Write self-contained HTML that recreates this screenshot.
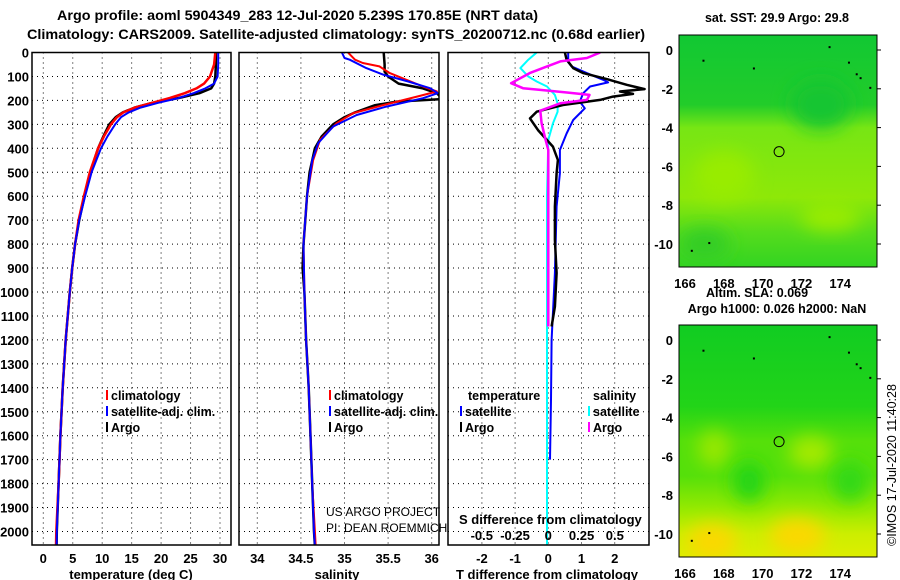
<!DOCTYPE html>
<html><head><meta charset="utf-8">
<style>
html,body{margin:0;padding:0;background:#fff;}
svg{display:block;font-family:"Liberation Sans",Arial,sans-serif;}
.b{font-weight:bold;}
</style></head>
<body>
<svg id="fig" width="900" height="580" viewBox="0 0 900 580" xmlns="http://www.w3.org/2000/svg">
<defs>
<filter id="blur" x="-50%" y="-50%" width="200%" height="200%"><feGaussianBlur stdDeviation="9"/></filter>
<linearGradient id="g1" x1="0" y1="0" x2="0" y2="1">
<stop offset="0" stop-color="#11c833"/><stop offset="0.3" stop-color="#22cc2a"/><stop offset="0.4" stop-color="#77e614"/><stop offset="0.7" stop-color="#8ee808"/><stop offset="0.85" stop-color="#55dc1c"/><stop offset="1" stop-color="#33d422"/>
</linearGradient>
<linearGradient id="g2" x1="0" y1="0" x2="0" y2="1">
<stop offset="0" stop-color="#11cc22"/><stop offset="0.35" stop-color="#22d418"/><stop offset="0.5" stop-color="#55e00a"/><stop offset="0.65" stop-color="#55e00a"/><stop offset="0.8" stop-color="#99ea00"/><stop offset="0.9" stop-color="#ccee00"/><stop offset="1" stop-color="#ddee00"/>
</linearGradient>
<clipPath id="c1"><rect x="679" y="35" width="198" height="232"/></clipPath>
<clipPath id="c2"><rect x="679" y="325" width="198" height="232"/></clipPath>
</defs>
<text x="57" y="20" textLength="481" lengthAdjust="spacingAndGlyphs" font-size="14" class="b">Argo profile: aoml 5904349_283 12-Jul-2020 5.239S 170.85E (NRT data)</text>
<text x="27" y="39" textLength="618" lengthAdjust="spacingAndGlyphs" font-size="14" class="b">Climatology: CARS2009. Satellite-adjusted climatology: synTS_20200712.nc (0.68d earlier)</text>
<g id="panels"></g>
<g id="maps"></g>
</svg>
<script>
// ---- profile data (depth in m) ----
const tDepthArgo = [0,50,100,130,150,170,190,210,230,250,270,300,350,400,500,600,700,800,900,1000,1200,1400,1600,1800,2000,2060];
const tArgo      = [29.3,29.3,29.2,29.0,28.5,26.5,23,18.5,15.5,13.5,12.3,11.2,10.2,9.3,8.0,7.0,6.1,5.4,4.9,4.5,3.8,3.3,2.9,2.6,2.3,2.25];
const tClim      = [29.2,29.0,28.3,27.3,26.0,24.0,21.5,18.5,15.5,13.6,12.5,11.5,10.3,9.3,7.9,6.9,6.0,5.4,4.9,4.5,3.8,3.3,2.9,2.6,2.2,2.15];
const tSat       = [29.7,29.7,29.6,29.0,27.5,25.5,23,19.5,16.5,14.5,13.2,12.2,10.9,9.8,8.2,7.1,6.1,5.4,4.9,4.5,3.8,3.3,2.9,2.6,2.3,2.25];

const sDepthArgo = [0,50,80,100,130,150,170,185,195,205,220,250,270,300,350,400,500,600,700,800,900,1000,1200,1400,1600,1800,2000,2060];
const sArgo      = [35.45,35.46,35.46,35.5,35.62,35.9,36.06,36.1,36.1,35.6,35.35,35.12,35.0,34.87,34.74,34.66,34.60,34.57,34.55,34.53,34.52,34.54,34.56,34.59,34.61,34.63,34.65,34.66];
const sDepthClim = [0,30,44,58,86,114,142,163,184,219,253,295,364,450,600,800,1000,1200,1400,1600,1800,2000,2060];
const sClim      = [35.04,35.12,35.21,35.4,35.52,35.71,35.9,36.06,35.83,35.45,35.1,34.91,34.72,34.64,34.57,34.53,34.54,34.56,34.59,34.61,34.63,34.66,34.67];
const sDepthSat  = [0,23,30,65,93,121,149,170,191,226,261,309,378,450,600,800,1000,1200,1400,1600,1800,2000,2060];
const sSat       = [34.97,35.0,35.06,35.25,35.45,35.73,35.98,36.07,35.9,35.48,35.14,34.87,34.7,34.63,34.57,34.53,34.54,34.56,34.59,34.61,34.63,34.65,34.66];

const dtDepthArgo = [0,30,65,86,111,135,153,163,173,184,198,219,247,275,324,393,449,504,643,782,921,1061,1144];
const dtArgo      = [0.5,0.55,0.75,1.05,1.76,2.36,2.9,2.16,2.55,1.95,1.56,0.44,-0.35,-0.55,-0.31,0.14,0.29,0.25,0.2,0.2,0.25,0.2,0.1];
const dtDepthSat  = [0,40,58,86,114,125,142,170,205,233,282,338,407,504,643,921,1200,1450,1700];
const dtSat       = [0.6,0.6,0.7,1.16,1.65,1.8,1.26,1.05,0.95,1.1,0.75,0.55,0.35,0.35,0.25,0.2,0.1,0.08,0.05];
const dsDepthSat  = [0,30,65,100,121,142,177,212,247,295,365,600,1000,1500,2060];
const dsSat       = [-0.087,-0.15,-0.21,-0.15,-0.087,-0.01,0.05,0.07,0.07,0.035,0,-0.01,-0.01,-0.01,-0.01];
const dsDepthArgo = [0,23,37,58,86,128,149,156,167,177,198,212,243,295,365,407,600,900,1144];
const dsArgo      = [0.39,0.29,0.09,-0.01,-0.14,-0.28,-0.19,-0.06,0.14,0.31,0.29,0.09,-0.06,-0.05,-0.02,0,0,0,0];

const depthTicks = [0,100,200,300,400,500,600,700,800,900,1000,1100,1200,1300,1400,1500,1600,1700,1800,1900,2000];
const tTicks = [0,5,10,15,20,25,30];
const sTicks = [34,34.5,35,35.5,36];
const dtTicks = [-2,-1,0,1,2];
const dsTicks = [-0.5,-0.25,0,0.25,0.5];
const latTicks = [0,-2,-4,-6,-8,-10];
const lonTicks = [166,168,170,172,174];
const argoLon = 170.85, argoLat = -5.239;

const NS="http://www.w3.org/2000/svg";
function el(tag,attrs,parent,txt){const e=document.createElementNS(NS,tag);for(const k in attrs)e.setAttribute(k,attrs[k]);if(txt!==undefined)e.textContent=txt;parent.appendChild(e);return e;}
const yD = d => 52.5 + 0.2395*d;
const xT = t => 43.3 + 5.89*t;
const xS = s => 257.3 + 87.2*(s-34);
const xDT = t => 548.3 + 33.2*t;
const xDS = s => 548.3 + 133*s;
const P = document.getElementById('panels');
const panels=[{x0:32,x1:231,name:'temperature'},{x0:239,x1:439,name:'salinity'},{x0:448,x1:649,name:'difference'}];
panels.forEach((p,i)=>{
  const g=el('g',{},P);
  
  
  depthTicks.forEach(d=>{
    const l=el('line',{x1:p.x0,x2:p.x1,y1:yD(d),y2:yD(d),stroke:'#000','stroke-width':1,'stroke-dasharray':'1 4'},g);
    
    
  });
  const xs = i==0?tTicks.map(xT):i==1?sTicks.map(xS):dtTicks.map(xDT);
  xs.forEach(x=>{
    const l=el('line',{x1:x,x2:x,y1:52.5,y2:545,stroke:'#000','stroke-width':1,'stroke-dasharray':'1 4'},g);
    
    
  });
});
function line(g,xs,ds,fx,color,w,name){
  const pts=xs.map((v,i)=>fx(v).toFixed(1)+','+yD(ds[i]).toFixed(1)).join(' ');
  const l=el('polyline',{points:pts,fill:'none',stroke:color,'stroke-width':w,'stroke-linejoin':'round'},g);
  
  
}
const cl1=el('clipPath',{id:'cp1'},P);el('rect',{x:32,y:52.5,width:199,height:492.5},cl1);
const cl2=el('clipPath',{id:'cp2'},P);el('rect',{x:239,y:52.5,width:200,height:492.5},cl2);
const cl3=el('clipPath',{id:'cp3'},P);el('rect',{x:448,y:52.5,width:201,height:492.5},cl3);
const g1=el('g',{'clip-path':'url(#cp1)'},P);
line(g1,tArgo,tDepthArgo,xT,'#000',2.5,'temperature-argo-line');
line(g1,tClim,tDepthArgo,xT,'#f00',2.5,'temperature-climatology-line');
line(g1,tSat,tDepthArgo,xT,'#00f',2,'temperature-satellite-line');
const g2=el('g',{'clip-path':'url(#cp2)'},P);
line(g2,sArgo,sDepthArgo,xS,'#000',2.5,'salinity-argo-line');
line(g2,sClim,sDepthClim,xS,'#f00',2,'salinity-climatology-line');
line(g2,sSat,sDepthSat,xS,'#00f',2,'salinity-satellite-line');
const g3=el('g',{'clip-path':'url(#cp3)'},P);
line(g3,dsSat,dsDepthSat,xDS,'#0ff',2,'salinity-diff-satellite-line');
line(g3,dtSat,dtDepthSat,xDT,'#00f',2,'temperature-diff-satellite-line');
line(g3,dtArgo,dtDepthArgo,xDT,'#000',2.5,'temperature-diff-argo-line');
line(g3,dsArgo,dsDepthArgo,xDS,'#f0f',2.5,'salinity-diff-argo-line');
panels.forEach(p=>{
  const r=el('rect',{x:p.x0,y:52.5,width:p.x1-p.x0,height:492.5,fill:'none',stroke:'#000','stroke-width':1.5},P);
  
  
});
depthTicks.forEach(d=>{
  const t=el('text',{x:29,y:yD(d)+5,'text-anchor':'end','font-size':13,class:'b'},P,String(d));
  
  
});
function xlabels(ticks,fx,y,fs){ticks.forEach(v=>{
  const t=el('text',{x:fx(v),y:y,'text-anchor':'middle','font-size':fs,class:'b'},P,String(v));
  
  
});}
xlabels(tTicks,xT,563,13);xlabels(sTicks,xS,563,13);xlabels(dtTicks,xDT,563,13);
xlabels(dsTicks,xDS,540,13);
function txt(x,y,s,fs,name,bold,anchor){
  const t=el('text',{x:x,y:y,'font-size':fs,'text-anchor':anchor||'start'},P,s);
  if(bold)t.setAttribute('font-weight','bold');
  
  
  return t;
}
txt(131,579,'temperature (deg C)',13,'temperature-axis-title',1,'middle');
txt(337,579,'salinity',13,'salinity-axis-title',1,'middle');
txt(547,579,'T difference from climatology',13,'t-diff-axis-title',1,'middle');
txt(459,524,'S difference from climatology',13,'s-diff-axis-title',1);
txt(326,516,'US ARGO PROJECT',12,'credit-project',0);
txt(326,532,'PI: DEAN ROEMMICH',12,'credit-pi',0);
function leg(x,y,color,label){
  const m=el('rect',{x:x,y:y-10,width:2,height:10,fill:color},P);
  
  
  txt(x+5,y,label,12.5,'legend-entry',1);
}
leg(106,400,'#f00','climatology');leg(106,416,'#00f','satellite-adj. clim.');leg(106,432,'#000','Argo');
leg(329,400,'#f00','climatology');leg(329,416,'#00f','satellite-adj. clim.');leg(329,432,'#000','Argo');
txt(468,400,'temperature',12.5,'legend-heading-temperature',1);
txt(593,400,'salinity',12.5,'legend-heading-salinity',1);
leg(460,416,'#00f','satellite');leg(460,432,'#000','Argo');
leg(588,416,'#0ff','satellite');leg(588,432,'#f0f','Argo');

// ---- maps ----
const M=document.getElementById('maps');
const mx = lon => 685 + 19.4*(lon-166);
function map(oy,grad,blobs,clip,name){
  const g=el('g',{'clip-path':'url(#'+clip+')'},M);
  
  
  const my = lat => oy + 50 - 19.4*lat;
  el('rect',{x:679,y:oy+35,width:198,height:232,fill:'url(#'+grad+')'},g);
  blobs.forEach(b=>el('ellipse',{cx:mx(b[0]),cy:my(b[1]),rx:b[2],ry:b[3],fill:b[4],filter:'url(#blur)'},g));
  const fr=el('rect',{x:679,y:oy+35,width:198,height:232,fill:'none',stroke:'#000','stroke-width':1},M);
  
  
  latTicks.forEach(l=>{
    const t=el('text',{x:673,y:my(l)+5,'text-anchor':'end','font-size':13,class:'b'},M,String(l));
    
    
    el('line',{x1:877,x2:881,y1:my(l),y2:my(l),stroke:'#000'},M);
  });
  lonTicks.forEach(l=>{
    const t=el('text',{x:mx(l),y:oy+288,'text-anchor':'middle','font-size':13,class:'b'},M,String(l));
    
    
  });
  const c=el('circle',{cx:mx(argoLon),cy:my(argoLat),r:5,fill:'none',stroke:'#000','stroke-width':1},M);
  
  
  [[174.4,-0.6],[174.8,-1.2],[175,-1.4],[173.4,0.2],[166.9,-0.5],[169.5,-0.9],[175.5,-1.9],[166.3,-10.3],[167.2,-9.9]].forEach(p=>el('rect',{x:mx(p[0]),y:my(p[1]),width:2,height:2,fill:'#000'},M));
}
map(0,'g1',[[173,-2.8,30,25,'#18c530'],[168,-6.5,30,25,'#98ec04'],[173.5,-8.6,30,14,'#9aec06'],[167,-10,25,15,'#30cc28']],'c1','sst-map');
map(290,'g2',[[167.4,-10.4,25,18,'#fbd800'],[171.8,-10.1,28,18,'#fbd800'],[167.5,-5.6,16,18,'#99e800'],[172.5,-5.8,22,16,'#a6ea00'],[169.3,-7.3,16,20,'#22d418'],[174.5,-7.3,18,20,'#33d814']],'c2','sla-map');
txt(777,22,'sat. SST: 29.9 Argo: 29.8',12.5,'sst-map-title',1,'middle');
txt(757,297,'Altim. SLA: 0.069',12.5,'sla-title',1,'middle');
txt(777,313,'Argo h1000: 0.026 h2000: NaN',12.5,'sla-map-title',1,'middle');
const cr=txt(0,0,'©IMOS 17-Jul-2020 11:40:28',12.5,'timestamp-credit',0,'middle');
cr.setAttribute('transform','translate(896,465) rotate(-90)');
</script>
</body></html>
